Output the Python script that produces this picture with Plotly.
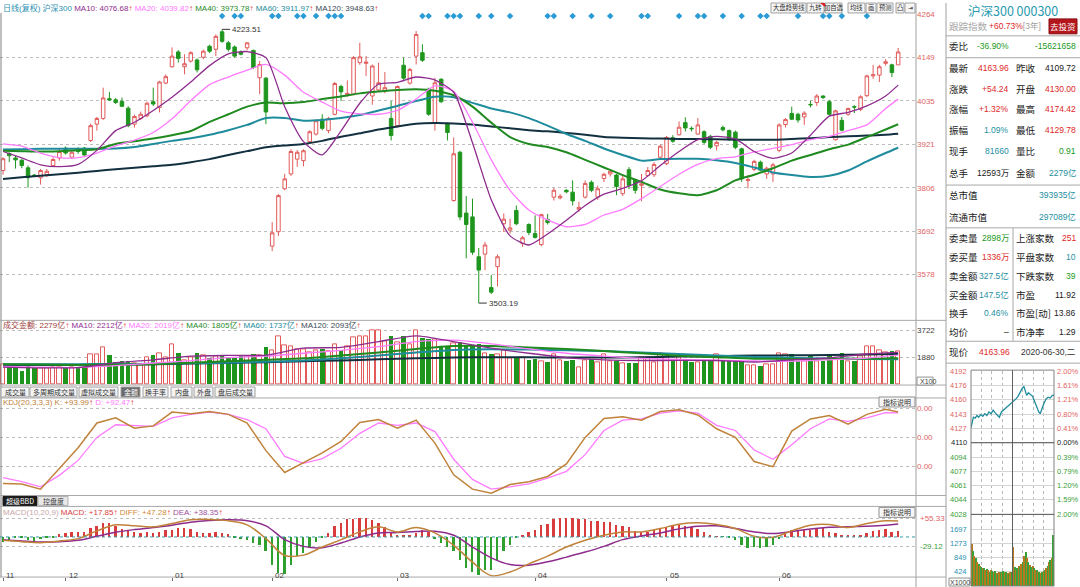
import plotly.graph_objects as go

W, H = 1080, 587
FONT = "Liberation Sans, Noto Sans CJK SC, sans-serif"
CJK = "Noto Sans CJK SC, sans-serif"

UP = "#E25A5A"
DN = "#1E961E"
C_MA10 = "#8E2C8E"
C_MA20 = "#FF7BFF"
C_MA40 = "#1F8A1F"
C_MA60 = "#1E8C9C"
C_MA120 = "#12303F"
C_K = "#C0823A"
C_D = "#FF7BFF"
RED = "#E02828"
GREEN = "#1A9A1A"
TEAL = "#1E8FA0"
BLACK = "#1A1A1A"

# ---------------- 日线 K 线 (2019-11-25 ~ 2020-06-30) ----------------
opens = [3852, 3897, 3885, 3879, 3859, 3840, 3833, 3841, 3865, 3885,
         3911, 3887, 3909, 3911, 3931, 3974, 3989, 4041, 4038, 4034,
         4016, 3974, 3989, 3996, 4033, 4018, 4082, 4125, 4164, 4125,
         4140, 4143, 4150, 4179, 4171, 4217, 4188, 4177, 4164, 4175,
         4168, 4096, 4095, 3653, 3691, 3804, 3843, 3882, 3878, 3928,
         3948, 3987, 3957, 4000, 4073, 4051, 4053, 4136, 4134, 4048,
         4064, 4061, 3989, 3970, 4129, 4082, 4153, 4162, 4066, 3978,
         4092, 3976, 3773, 3900, 3740, 3730, 3625, 3632, 3544, 3599,
         3712, 3695, 3747, 3660, 3710, 3686, 3657, 3723, 3782, 3780,
         3800, 3795, 3750, 3782, 3821, 3782, 3831, 3843, 3840, 3791,
         3854, 3826, 3813, 3839, 3841, 3887, 3870, 3938, 3946, 3978,
         3963, 3948, 3954, 3942, 3917, 3965, 3957, 3953, 3909, 3826,
         3855, 3874, 3843, 3843, 3905, 3973, 4002, 4000, 3993, 4026,
         4031, 4048, 4033, 3933, 3984, 4000, 4020, 4013, 4049, 4101,
         4103, 4134, 4130, 4130]
highs = [3887, 3900, 3891, 3882, 3865, 3843, 3856, 3856, 3887, 3910,
         3915, 3904, 3913, 3914, 3975, 3993, 4070, 4059, 4043, 4044,
         4021, 3999, 4007, 4033, 4070, 4088, 4105, 4176, 4169, 4158,
         4166, 4147, 4170, 4183, 4210, 4223.51, 4193, 4181, 4168, 4190,
         4170, 4140, 4098, 3716, 3790, 3843, 3908, 3906, 3908, 3958,
         3987, 4000, 3993, 4085, 4078, 4089, 4153, 4188, 4153, 4131,
         4136, 4111, 4035, 4076, 4149, 4122, 4219, 4184, 4070, 4096,
         4095, 3978, 3939, 3904, 3785, 3778, 3648, 3664, 3577, 3631,
         3739, 3725, 3760, 3680, 3713, 3734, 3738, 3738, 3806, 3790,
         3803, 3826, 3770, 3826, 3826, 3812, 3846, 3856, 3843, 3839,
         3861, 3830, 3843, 3861, 3874, 3920, 3943, 3945, 3981, 3992,
         3968, 3990, 3958, 3946, 3930, 3970, 3960, 3957, 3912, 3840,
         3880, 3878, 3862, 3872, 3976, 3990, 4020, 4004, 4008, 4035,
         4053, 4050, 4038, 4012, 3993, 4018, 4024, 4050, 4104, 4130,
         4130, 4145, 4133, 4174.42]
lows = [3841, 3874, 3857, 3858, 3807, 3835, 3815, 3835, 3861, 3878,
        3894, 3882, 3896, 3890, 3927, 3957, 3985, 4035, 4027, 4019,
        3966, 3965, 3985, 3992, 4022, 4005, 4079, 4123, 4136, 4105,
        4136, 4110, 4145, 4161, 4153, 4188, 4165, 4149, 4155, 4168,
        4119, 4053, 3974, 3640, 3680, 3800, 3838, 3862, 3863, 3922,
        3944, 3958, 3950, 3997, 4035, 4046, 4050, 4130, 4101, 4025,
        4060, 4055, 3931, 3965, 4087, 4078, 4131, 4138, 3996, 3957,
        4030, 3931, 3770, 3721, 3621, 3630, 3503.19, 3590, 3527, 3547,
        3690, 3686, 3708, 3651, 3682, 3673, 3653, 3710, 3773, 3776,
        3792, 3760, 3743, 3778, 3795, 3775, 3822, 3836, 3787, 3785,
        3803, 3791, 3771, 3835, 3835, 3883, 3866, 3925, 3944, 3955,
        3955, 3946, 3922, 3908, 3905, 3955, 3930, 3908, 3822, 3805,
        3850, 3850, 3830, 3822, 3900, 3965, 3985, 3978, 3972, 4018,
        4022, 4040, 3996, 3931, 3955, 3996, 4003, 4008, 4045, 4093,
        4085, 4128, 4098, 4129.78]
closes = [3883, 3891, 3880, 3865, 3833, 3838, 3852, 3850, 3881, 3902,
          3898, 3900, 3902, 3893, 3970, 3989, 4043, 4038, 4031, 4021,
          3970, 3994, 4000, 4029, 4027, 4085, 4099, 4153, 4147, 4133,
          4162, 4117, 4166, 4166, 4205, 4192, 4171, 4153, 4158, 4188,
          4123, 4131, 4006, 3688, 3786, 3830, 3902, 3900, 3904, 3954,
          3983, 3963, 3989, 4081, 4059, 4055, 4149, 4151, 4137, 4127,
          4083, 4070, 3944, 4073, 4095, 4118, 4210, 4142, 4000, 4083,
          4033, 3952, 3896, 3730, 3710, 3637, 3590, 3656, 3532, 3625,
          3724, 3701, 3712, 3675, 3689, 3676, 3736, 3715, 3800, 3784,
          3796, 3772, 3755, 3818, 3800, 3804, 3842, 3850, 3810, 3830,
          3813, 3800, 3817, 3852, 3868, 3916, 3939, 3929, 3966, 3964,
          3962, 3972, 3926, 3913, 3926, 3959, 3935, 3913, 3830, 3828,
          3876, 3853, 3858, 3867, 3972, 3986, 3987, 3985, 4003, 4025,
          4048, 4044, 4000, 4009, 3958, 4015, 4019, 4046, 4101, 4104,
          4125, 4138, 4109.72, 4163.96]

# 成交金额 (亿)
volumes = [1378, 1196, 1082, 923, 1242, 1105, 1105, 1105, 1151, 1196,
           1151, 1151, 1196, 1196, 2062, 2062, 2564, 2017, 1493, 1561,
           1607, 1470, 1333, 1880, 1994, 2154, 1880, 2747, 2176, 1652,
           1835, 2130, 2017, 1789, 1926, 1949, 1880, 1835, 1994, 1949,
           2062, 1994, 2564, 2336, 3316, 2701, 2632, 2450, 2404, 2245,
           2336, 2404, 2290, 2747, 2359, 2632, 3248, 3316, 3316, 3703,
           3703, 2974, 3316, 2929, 3316, 2747, 3703, 3202, 3088, 3088,
           2564, 2564, 2860, 2929, 2678, 2678, 2747, 2130, 2062, 2108,
           2336, 1789, 1880, 1835, 1652, 1720, 1607, 1538, 2062, 1652,
           1607, 1652, 1196, 1652, 1720, 1493, 2062, 1561, 1561, 1424,
           1447, 1424, 1835, 1880, 1538, 2176, 1880, 1750, 1880, 1652,
           1520, 1493, 1560, 1607, 2040, 1652, 1607, 1607, 1607, 1310,
           1310, 1270, 1378, 1378, 2130, 2062, 2062, 1561, 1561, 1950,
           1607, 1607, 2062, 1700, 2130, 1607, 1607, 1950, 2632, 2632,
           2336, 2245, 2290, 2279]

# 均线 (每 3 根取一点)
ma_idx = list(range(0, 142, 3)) + [143]
ma10 = [3902, 3885, 3867, 3862, 3868, 3905, 3957, 3979, 4010, 4045,
        4085, 4128, 4159, 4165, 4149, 4020, 3928, 3893, 3956, 4029,
        4079, 4084, 4098, 4090, 4058, 3925, 3775, 3680, 3656, 3685,
        3721, 3760, 3790, 3805, 3825, 3865, 3902, 3933, 3942, 3935,
        3902, 3884, 3898, 3945, 3995, 4005, 4022, 4048, 4076.68]
ma20 = [3922, 3916, 3898, 3886, 3886, 3898, 3917, 3932, 3952, 3988,
        4036, 4078, 4098, 4116, 4131, 4103, 4058, 4032, 4008, 4001,
        4000, 4010, 4040, 4075, 4060, 3979, 3880, 3800, 3748, 3722,
        3704, 3710, 3735, 3750, 3778, 3810, 3842, 3868, 3883, 3888,
        3901, 3910, 3920, 3933, 3942, 3957, 3972, 4015, 4039.82]
ma40 = [3904, 3903, 3902, 3903, 3905, 3908, 3922, 3929, 3936, 3945,
        3956, 3980, 4000, 4020, 4031, 4029, 4032, 4040, 4047, 4055,
        4060, 4064, 4066, 4062, 4050, 4020, 3978, 3940, 3922, 3914,
        3900, 3880, 3860, 3840, 3822, 3802, 3792, 3787, 3800, 3826,
        3841, 3858, 3878, 3893, 3908, 3920, 3940, 3960, 3973.78]
ma60 = [3907, 3908, 3909, 3909, 3909, 3909, 3910, 3914, 3922, 3930,
        3937, 3946, 3958, 3972, 3990, 3990, 3983, 3985, 3990, 3998,
        4010, 4022, 4035, 4046, 4045, 4030, 4015, 4005, 3990, 3970,
        3948, 3930, 3910, 3893, 3878, 3882, 3883, 3883, 3879, 3872,
        3860, 3847, 3840, 3835, 3838, 3852, 3876, 3898, 3911.97]
ma120 = [3830, 3834, 3838, 3842, 3846, 3851, 3855, 3859, 3863, 3867,
         3874, 3882, 3893, 3903, 3913, 3918, 3922, 3930, 3941, 3950,
         3960, 3968, 3975, 3977, 3976, 3973, 3968, 3963, 3958, 3955,
         3951, 3946, 3940, 3938, 3937, 3936, 3935, 3935, 3934, 3933,
         3933, 3933, 3935, 3937, 3940, 3942, 3944, 3946, 3948.63]

# 成交额均线 (每 6 根取一点)
vma_idx = list(range(0, 139, 6)) + [143]
vma10 = [1200, 1150, 1160, 1500, 1700, 1950, 2000, 2020, 2500, 2550, 2950, 3350, 2950,
         2500, 2150, 1850, 1700, 1650, 1660, 1650, 1550, 1700, 1830, 2100, 2212]
vma20 = [1250, 1200, 1170, 1300, 1480, 1650, 1850, 1950, 2150, 2350, 2600, 2950, 3050,
         2800, 2450, 2150, 1950, 1800, 1720, 1680, 1620, 1600, 1700, 1820, 2019]
vma40 = [1400, 1380, 1350, 1370, 1400, 1500, 1600, 1700, 1800, 2000, 2200, 2450, 2650,
         2650, 2550, 2450, 2300, 2150, 1980, 1880, 1780, 1760, 1760, 1780, 1805]
vma60 = [1400, 1400, 1400, 1410, 1420, 1460, 1500, 1570, 1650, 1800, 2000, 2200, 2380,
         2420, 2400, 2350, 2300, 2200, 2100, 2000, 1900, 1840, 1790, 1760, 1737]
vma120 = [1330, 1340, 1350, 1370, 1400, 1440, 1480, 1540, 1600, 1660, 1730, 1800, 1860,
          1870, 1870, 1860, 1850, 1880, 1920, 1950, 1990, 2010, 2030, 2060, 2093]

# KDJ(20,3,3,3)
k_vals = [-30, -31, -40, -4, 32, 75, 84, 66, 70, 94,
          91, 95, 90, 75, 27, -11, 6, 23, 43, 76,
          81, 66, 80, 40, -15, -40, -47, -32, -27, -18,
          4, 50, 83, 86, 80, 95, 98, 89, 65, 50,
          8, -1, 61, 82, 88, 73, 90, 99, 93.99]
d_vals = [-20, -27, -36, -16, 10, 50, 72, 71, 69, 84,
          90, 94, 90, 81, 65, 17, 5, 13, 31, 57,
          75, 71, 75, 60, 12, -23, -40, -36, -31, -21,
          -9, 20, 62, 80, 82, 92, 96, 92, 71, 62,
          28, 12, 37, 65, 82, 78, 84, 93, 92.47]

# MACD(10,20,9)
diff = [-10, -14, -17, -12, -5, 18, 36, 33, 30, 40,
        51, 52, 48, 36, -5, -55, -54, -30, -8, 15,
        30, 15, 28, 12, -25, -75, -115, -104, -80, -57,
        -30, -10, 5, 15, 15, 25, 38, 42, 37, 25,
        2, -1, 18, 35, 37, 28, 40, 48, 47.28]
dea = [-8, -12, -15, -14, -10, 2, 14, 22, 28, 35,
       44, 49, 51, 48, 33, -8, -28, -32, -18, 0,
       12, 13, 16, 17, 5, -30, -62, -82, -84, -74,
       -60, -45, -28, -8, 3, 12, 24, 32, 33, 25,
       15, 10, 16, 24, 29, 30, 32, 35, 38.35]
macd_hist = [-16.6, -9.9, -4.9, -4.9, -9.9, -11.8, -7.9, -4.9, -2.0, 6.9,
             9.9, 13.8, 14.8, 12.8, 24.7, 31.6, 41.4, 39.5, 31.6, 21.7,
             19.8, 14.8, 9.9, 12.8, 9.9, 14.8, 19.8, 19.8, 26.6, 24.7,
             22.7, 12.8, 11.8, 9.9, 12.8, 11.8, 7.9, -4.9, -7.9, -9.9,
             -19.7, -24.7, -44.4, -83.8, -108.5, -110.5, -83.8, -59.2, -49.3, -29.6,
             -14.8, -4.9, 9.9, 31.6, 39.5, 51.3, 51.3, 54.3, 54.3, 49.3,
             39.5, 29.6, 9.9, 4.9, 2.0, 4.9, 9.9, 19.8, 14.8, -7.9,
             -17.8, -29.6, -44, -69, -94, -104, -113, -99, -99, -70,
             -44, -25, -3, 5, 15, 20, 33, 37, 52, 56,
             56, 54, 52, 52, 47, 46, 44, 43, 35, 32,
             27, 17, 15, 15, 20, 25, 27, 32, 33, 30,
             27, 22, 15, 3, 1, -1, -4, -10, -24, -34,
             -32, -33, -30, -25, -6, 14, 18, 20, 20, 20,
             25, 25, 15, 10, 5, 2, 2, 3, 10, 17,
             20, 22, 15, 17.85]

# 顶部信号点
signal_idx = [35, 37, 38, 43, 44, 47, 48, 50, 52, 53, 54, 67, 68, 71, 72, 73, 76, 78, 81,
              87, 88, 91, 94, 97, 102, 103, 108, 111, 112, 115, 118, 121, 122, 127, 131,
              132, 134, 138]

price_ticks = [3578, 3692, 3806, 3921, 4035, 4149, 4264]
month_ticks = [0, 10, 27, 43, 63, 85, 106, 124]
month_labels = ["11", "12", "01", "02", "03", "04", "05", "06"]

# 分时 (2020-06-30)
intra_min = [0, 3, 7, 12, 17, 22, 28, 34, 40, 46, 52, 58, 64, 70, 76, 82, 88, 94, 100, 106,
             112, 118, 124, 130, 136, 142, 148, 153, 157, 161, 166, 172, 178, 184, 190, 196,
             200, 205, 211, 217, 223, 229, 235, 240]
intra_px = [4127, 4133, 4139, 4138, 4141, 4139, 4142, 4140, 4143, 4141, 4145, 4143, 4147, 4144,
            4141, 4139, 4145, 4147, 4149, 4151, 4154, 4156, 4158, 4160, 4163, 4168, 4172,
            4174.4, 4170, 4164, 4167, 4165, 4163, 4157, 4150, 4145, 4143, 4149, 4155, 4160,
            4162, 4161, 4164, 4164]
intra_vol = [1250, 1050, 900, 820, 700, 640, 600, 560, 520, 540,
             480, 500, 460, 420, 480, 440, 400, 430, 380, 360,
             420, 400, 380, 440, 420, 400, 380, 360, 400, 420,
             1150, 560, 480, 520, 600, 560, 640, 700, 900, 1000,
             820, 700, 620, 560, 600, 520, 480, 460, 420, 400,
             380, 420, 440, 480, 520, 600, 700, 760, 820, 1500]
intra_levels = [4191.9, 4175.5, 4159.0, 4142.6, 4126.2, 4109.72, 4093.3, 4076.8, 4060.4, 4044.0, 4027.5]
intra_left = ["4192", "4176", "4160", "4143", "4127", "4110", "4094", "4077", "4061", "4044", "4028"]
intra_right = ["2.00%", "1.61%", "1.21%", "0.80%", "0.41%", "0.00%", "0.39%", "0.79%", "1.20%", "1.59%", "2.00%"]
intra_vol_ticks = [424, 849, 1273, 1697]

bar_idx = list(range(len(closes)))


def py(y):
    return 1 - y / H


ann = []
shp = []


def label(x, y, s, color=BLACK, size=9, anchor="left", font=FONT):
    ann.append(dict(x=x / W, y=py(y), xref="paper", yref="paper", text=s, showarrow=False,
                    xanchor=anchor, yanchor="middle", font=dict(color=color, size=size, family=font)))


def line(x0, y0, x1, y1, color="#A8A8A8", width=1, dash=None):
    shp.append(dict(type="line", xref="paper", yref="paper", x0=x0 / W, y0=py(y0), x1=x1 / W, y1=py(y1),
                    line=dict(color=color, width=width, dash=dash)))


def rect(x0, y0, x1, y1, fill="white", color="#A0A0A0"):
    shp.append(dict(type="rect", xref="paper", yref="paper", x0=x0 / W, y0=py(y1), x1=x1 / W, y1=py(y0),
                    fillcolor=fill, line=dict(color=color, width=1), layer="above"))


def span(s, c):
    return f'<span style="color:{c}">{s}</span>'


ARROW = span("↑", "#E03030")

fig = go.Figure()

# ---- 主图 ----
fig.add_trace(go.Candlestick(
    x=bar_idx, open=opens, high=highs, low=lows, close=closes,
    increasing=dict(line=dict(color=UP, width=1), fillcolor="white"),
    decreasing=dict(line=dict(color=DN, width=1), fillcolor=DN),
    whiskerwidth=0, hoverinfo="skip", xaxis="x", yaxis="y"))
for vals, color, width in [(ma120, C_MA120, 2), (ma60, C_MA60, 2), (ma40, C_MA40, 2),
                           (ma20, C_MA20, 1.3), (ma10, C_MA10, 1.3)]:
    fig.add_trace(go.Scatter(x=ma_idx, y=vals, mode="lines", hoverinfo="skip",
                             line=dict(color=color, width=width, shape="spline", smoothing=0.6),
                             xaxis="x", yaxis="y"))
fig.add_trace(go.Scatter(x=signal_idx, y=[4258.5] * len(signal_idx), mode="markers", hoverinfo="skip",
                         marker=dict(symbol="diamond", size=5, color="#2A9BD4"), xaxis="x", yaxis="y"))

# ---- 成交额 ----
up_idx = [i for i in bar_idx if closes[i] >= opens[i]]
dn_idx = [i for i in bar_idx if closes[i] < opens[i]]
fig.add_trace(go.Bar(x=up_idx, y=[volumes[i] for i in up_idx], width=0.72, hoverinfo="skip",
                     marker=dict(color="white", line=dict(color=UP, width=1)), xaxis="x2", yaxis="y2"))
fig.add_trace(go.Bar(x=dn_idx, y=[volumes[i] for i in dn_idx], width=0.72, hoverinfo="skip",
                     marker=dict(color=DN, line=dict(color=DN, width=0)), xaxis="x2", yaxis="y2"))
for vals, color, width in [(vma120, C_MA120, 2), (vma60, C_MA60, 2), (vma40, C_MA40, 2),
                           (vma20, C_MA20, 1.3), (vma10, C_MA10, 1.3)]:
    fig.add_trace(go.Scatter(x=vma_idx, y=vals, mode="lines", hoverinfo="skip",
                             line=dict(color=color, width=width, shape="spline", smoothing=0.6),
                             xaxis="x2", yaxis="y2"))

# ---- KDJ ----
fig.add_trace(go.Scatter(x=ma_idx, y=d_vals, mode="lines", line=dict(color=C_D, width=1.3),
                         hoverinfo="skip", xaxis="x3", yaxis="y3"))
fig.add_trace(go.Scatter(x=ma_idx, y=k_vals, mode="lines", line=dict(color=C_K, width=1.5),
                         hoverinfo="skip", xaxis="x3", yaxis="y3"))

# ---- MACD ----
fig.add_trace(go.Bar(x=bar_idx, y=macd_hist, width=0.3, hoverinfo="skip",
                     marker=dict(color=["#D83C3C" if v >= 0 else "#2EA02E" for v in macd_hist],
                                 line=dict(width=0)), xaxis="x4", yaxis="y4"))
fig.add_trace(go.Scatter(x=ma_idx, y=dea, mode="lines", line=dict(color=C_MA10, width=1.5, shape="spline"),
                         hoverinfo="skip", xaxis="x4", yaxis="y4"))
fig.add_trace(go.Scatter(x=ma_idx, y=diff, mode="lines", line=dict(color=C_K, width=1.5, shape="spline"),
                         hoverinfo="skip", xaxis="x4", yaxis="y4"))

# ---- 分时 ----
iv_x = [2 + 4 * k for k in range(len(intra_vol))]
fig.add_trace(go.Bar(x=iv_x, y=intra_vol, width=3.2, hoverinfo="skip",
                     marker=dict(color=["#B8781E" if k % 2 == 0 else "#3AA03A" for k in range(len(intra_vol))],
                                 line=dict(width=0)), xaxis="x6", yaxis="y6"))
fig.add_trace(go.Scatter(x=intra_min, y=intra_px, mode="lines", line=dict(color="#1E8C9C", width=1.3),
                         hoverinfo="skip", xaxis="x5", yaxis="y5"))

# ---------------- 轴 ----------------
XR = [-0.48, 145.85]
CH_R = 916 / W
base_x = dict(range=XR, showgrid=False, zeroline=False, showticklabels=False, ticks="", showline=False,
              fixedrange=True)
grid = dict(showgrid=True, gridcolor="#BDBDBD", griddash="dot", gridwidth=1, zeroline=False, ticks="",
            showline=False, side="right", fixedrange=True)
intra_x = dict(domain=[971 / W, 1054 / W], range=[0, 240], tickvals=[30, 60, 90, 150, 180, 210],
               showticklabels=False, showgrid=True, gridcolor="#B8B8B8", griddash="dot", zeroline=False,
               ticks="", fixedrange=True)
intra_y = dict(showticklabels=False, showgrid=True, gridcolor="#D4D4D4", zeroline=False, ticks="",
               fixedrange=True)

layout_axes = dict(
    xaxis=dict(domain=[0, CH_R], anchor="y", rangeslider=dict(visible=False), **base_x),
    yaxis=dict(domain=[py(318), py(10)], range=[3460.3, 4266.6], anchor="x", tickvals=price_ticks,
               tickfont=dict(size=8, color="#E06464", family=FONT), **grid),
    xaxis2=dict(domain=[0, CH_R], anchor="y2", **base_x),
    yaxis2=dict(domain=[py(384), py(320)], range=[-34, 4341], anchor="x2", tickvals=[1880, 3722],
                tickfont=dict(size=8, color="#404040", family=FONT), **grid),
    xaxis3=dict(domain=[0, CH_R], anchor="y3", **base_x),
    yaxis3=dict(domain=[py(495), py(398)], range=[-51, 116.8], anchor="x3", tickvals=[0, 50, 100],
                ticktext=["0.00", "0.00", "0.00"], tickfont=dict(size=8, color="#E06464", family=FONT), **grid),
    xaxis4=dict(domain=[0, CH_R], anchor="y4", range=XR, showgrid=False, zeroline=False, showticklabels=False,
                ticks="outside", ticklen=3, tickcolor="#707070", tickvals=month_ticks, showline=False,
                fixedrange=True),
    yaxis4=dict(domain=[py(577), py(506)], range=[-119.2, 90.8], anchor="x4", tickvals=[-29.12, 55.33],
                showticklabels=False, **grid),
    xaxis5=dict(anchor="y5", **intra_x),
    yaxis5=dict(domain=[py(514), py(370)], range=[4027.5, 4191.9], anchor="x5", tickvals=intra_levels,
                **intra_y),
    xaxis6=dict(anchor="y6", **intra_x),
    yaxis6=dict(domain=[py(586), py(514)], range=[0, 2143], anchor="x6", tickvals=intra_vol_ticks,
                **intra_y),
)

# ---------------- 框线 ----------------
line(1, 10, 1, 577, "#808080")
line(916, 0, 916, 587, "#A0A0A0")
line(946, 0, 946, 587, "#A0A0A0")
for yy in [319, 384, 397, 495, 506, 577]:
    line(0, yy, 946, yy, "#A8A8A8")
for yy in [33, 55, 183, 226, 340, 362]:
    line(946, yy, 1080, yy, "#A8A8A8")
line(1013, 226, 1013, 340, "#A8A8A8")
# MACD 零轴
shp.append(dict(type="line", xref="x4", yref="y4", x0=XR[0], x1=XR[1], y0=0, y1=0,
                line=dict(color="#3A9AA8", width=1, dash="dot")))
# 分时框
rect(971, 369, 1054, 586, fill="rgba(0,0,0,0)", color="#808080")
shp.append(dict(type="line", xref="x5", yref="paper", x0=120, x1=120, y0=py(586), y1=py(369),
                line=dict(color="#606060", width=1)))
line(971, 442, 1054, 442, "#505050")
line(971, 514, 1054, 514, "#505050")

# ---------------- 文字 ----------------
main_legend = (span("日线(复权)", "#2A8FB0") + " " + span("沪深300", "#2A8FB0") + " " +
               span(f"MA10: {ma10[-1]:.2f}", C_MA10) + ARROW + " " +
               span(f"MA20: {ma20[-1]:.2f}", C_MA20) + ARROW + " " +
               span(f"MA40: {ma40[-1]:.2f}", C_MA40) + ARROW + " " +
               span(f"MA60: {ma60[-1]:.2f}", C_MA60) + ARROW + " " +
               span(f"MA120: {ma120[-1]:.2f}", "#3A4A55") + ARROW)
label(1, 5, main_legend, size=8)
vol_legend = (span(f"成交金额: {volumes[-1]}亿", "#A03C3C") + ARROW + " " +
              span(f"MA10: {vma10[-1]}亿", C_MA10) + ARROW + " " +
              span(f"MA20: {vma20[-1]}亿", C_MA20) + ARROW + " " +
              span(f"MA40: {vma40[-1]}亿", C_MA40) + ARROW + " " +
              span(f"MA60: {vma60[-1]}亿", C_MA60) + ARROW + " " +
              span(f"MA120: {vma120[-1]}亿", "#3A4A55") + ARROW)
label(1, 324, vol_legend, size=8)
kdj_legend = (span(f"KDJ(20,3,3,3) K: +{k_vals[-1]:.2f}", C_K) + ARROW + " " +
              span(f"D: +{d_vals[-1]:.2f}", C_D) + ARROW)
label(1, 402, kdj_legend, size=8)
macd_legend = (span("MACD(10,20,9)", "#C8A8A8") + " " + span(f"MACD: +{macd_hist[-1]:.2f}", "#D84040") + ARROW +
               " " + span(f"DIFF: +{diff[-1]:.2f}", "#D08A3A") + ARROW + " " +
               span(f"DEA: +{dea[-1]:.2f}", "#A050A0") + ARROW)
label(1, 512, macd_legend, size=8)

# 最高/最低标注
for i_mark, val in [(35, highs[35]), (76, lows[76])]:
    ann.append(dict(x=i_mark, y=val, xref="x", yref="y", text=f"{val:.2f}", showarrow=True, ax=8, ay=0,
                    xanchor="left", arrowhead=0, arrowwidth=1, arrowcolor="#333",
                    font=dict(size=8, color="#333", family=FONT)))

# MACD 刻度
ann.append(dict(x=918 / W, y=55.33, xref="paper", yref="y4", text="+55.33", showarrow=False, xanchor="left",
                font=dict(size=8, color="#E06464", family=FONT)))
ann.append(dict(x=918 / W, y=-29.12, xref="paper", yref="y4", text="-29.12", showarrow=False, xanchor="left",
                font=dict(size=8, color="#3AA03A", family=FONT)))
rect(917, 376, 933, 384, fill="white", color="#909090")
label(918, 380, "X100", "#404040", 7)

# 日期
for t, s in zip(month_ticks, month_labels):
    ann.append(dict(x=t, y=py(582), xref="x4", yref="paper", text=s, showarrow=False, xanchor="left",
                    xshift=1, font=dict(size=8, color="#404040", family=FONT)))

# 成交量页签
tabs = [("成交量", 1, 29), ("多周期成交量", 30, 77), ("虚拟成交量", 79, 118), ("金额", 121, 140),
        ("换手率", 143, 168), ("内盘", 171, 192), ("外盘", 194, 213), ("盘后成交量", 215, 255)]
for s, a, b in tabs:
    sel = s == "金额"
    rect(a, 386, b, 396, fill="#6A6A6A" if sel else "#F4F4F4", color="#A0A0A0")
    label((a + b) / 2, 391, s, "white" if sel else "#303030", 7, "center", CJK)
rect(3, 496, 37, 505, fill="#1A1A1A", color="#1A1A1A")
label(20, 500.5, "超级BBD", "white", 7, "center", CJK)
rect(38, 496, 68, 505, fill="#E8E8E8", color="#B0B0B0")
label(53, 500.5, "控盘度", "#404040", 7, "center", CJK)
for yy in [401, 512]:
    rect(879, yy - 5, 915, yy + 5, fill="#F6F6F6", color="#909090")
    label(897, yy, "指标说明", "#303030", 7, "center", CJK)

# 工具栏
tools = [("大盘趋势线", 771, 806), ("九转", 807, 824), ("加自选", 825, 842), ("均线", 848, 865),
         ("画", 866, 876), ("预测", 877, 893), ("凸", 896, 904), ("⇥", 905, 915)]
for s, a, b in tools:
    rect(a, 0, b, 10, fill="#F6F6F6", color="#A0A0A0")
    label((a + b) / 2, 5, s, "#303030", 6.3, "center", CJK)
shp.append(dict(type="path", xref="paper", yref="paper",
                path=f"M {820 / W} {py(0)} L {825 / W} {py(0)} L {825 / W} {py(4)} Z",
                fillcolor="#E02020", line=dict(width=0), layer="above"))

# 右侧行情面板
label(1013, 8, "沪深300 000300", "#2A9AB0", 12.5, "center", CJK)
label(947, 23, "跟踪指数", "#A8A8A8", 9.5, "left", CJK)
label(987, 23, span("+60.73%", RED) + span("[3年]", "#A0A0A0"), size=8.5)
rect(1049, 16, 1077, 31, fill="#B3151B", color="#8A1015")
label(1063, 23.5, "去投资", "white", 8.5, "center", CJK)

rows = [
    ("委比", "-36.90%", GREEN, "", "-15621658", GREEN, 43),
    ("最新", "4163.96", RED, "昨收", "4109.72", BLACK, 65),
    ("涨跌", "+54.24", RED, "开盘", "4130.00", RED, 86),
    ("涨幅", "+1.32%", RED, "最高", "4174.42", RED, 107),
    ("振幅", "1.09%", TEAL, "最低", "4129.78", RED, 128),
    ("现手", "81660", TEAL, "量比", "0.91", GREEN, 149),
    ("总手", "12593万", BLACK, "金额", "2279亿", TEAL, 171),
    ("委卖量", "2898万", GREEN, "上涨家数", "251", RED, 236),
    ("委买量", "1336万", RED, "平盘家数", "10", TEAL, 255),
    ("卖金额", "327.5亿", TEAL, "下跌家数", "39", GREEN, 274),
    ("买金额", "147.5亿", TEAL, "市盈", "11.92", BLACK, 293),
    ("换手", "0.46%", TEAL, "市盈[动]", "13.86", BLACK, 312),
    ("均价", "–", BLACK, "市净率", "1.29", BLACK, 331),
]
for l1, v1, c1, l2, v2, c2, yy in rows:
    label(947, yy, l1, BLACK, 9.5, "left", CJK)
    label(1011, yy, v1, c1, 8.5, "right")
    if l2:
        label(1014, yy, l2, BLACK, 9.5, "left", CJK)
    label(1078, yy, v2, c2, 8.5, "right")
label(947, 193, "总市值", BLACK, 9.5, "left", CJK)
label(1078, 193, "393935亿", TEAL, 8.5, "right")
label(947, 215, "流通市值", BLACK, 9.5, "left", CJK)
label(1078, 215, "297089亿", TEAL, 8.5, "right")
label(947, 351, "现价", BLACK, 9.5, "left", CJK)
label(1012, 351, f"{closes[-1]:.2f}", RED, 8.5, "right")
label(1078, 351, "2020-06-30,二", "#303030", 8.5, "right")

# 分时刻度
for k, (lv, tl, tr) in enumerate(zip(intra_levels, intra_left, intra_right)):
    col = "#E06464" if k < 5 else ("#202020" if k == 5 else "#3AA03A")
    ann.append(dict(x=969 / W, y=lv, xref="paper", yref="y5", text=tl, showarrow=False, xanchor="right",
                    font=dict(size=7.5, color=col, family=FONT)))
    ann.append(dict(x=1055 / W, y=lv, xref="paper", yref="y5", text=tr, showarrow=False, xanchor="left",
                    font=dict(size=7.5, color=col, family=FONT)))
for v in intra_vol_ticks:
    ann.append(dict(x=969 / W, y=v, xref="paper", yref="y6", text=str(v), showarrow=False, xanchor="right",
                    font=dict(size=7.5, color="#2A8FB0", family=FONT)))
rect(949, 578, 970, 586, fill="white", color="#909090")
label(959.5, 582, "X1000", "#404040", 7, "center")

fig.update_layout(
    width=W, height=H, margin=dict(l=0, r=0, t=0, b=0),
    paper_bgcolor="white", plot_bgcolor="white", showlegend=False, hovermode=False,
    bargap=0, boxgap=0.2, annotations=ann, shapes=shp, font=dict(family=FONT), **layout_axes)

fig.write_html("out.html", config={"displayModeBar": False},
               post_script="document.body.style.margin='0';document.body.style.overflow='hidden';")
